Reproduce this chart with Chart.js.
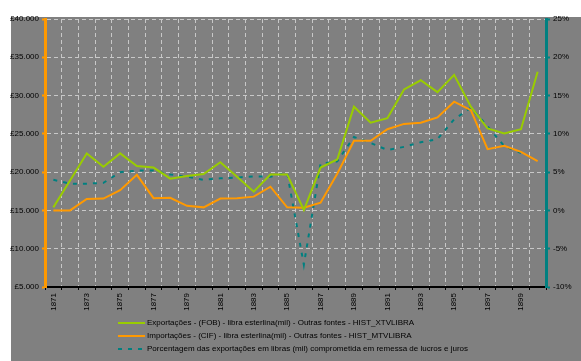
<!DOCTYPE html>
<html>
<head>
<meta charset="utf-8">
<script src="https://cdn.jsdelivr.net/npm/chart.js@4"></script>
<style>
  html, body { margin: 0; padding: 0; background: #ffffff; }
  #wrap { width: 581px; height: 361px; }
</style>
</head>
<body>
<div id="wrap"><canvas id="chart" width="581" height="361"></canvas></div>
<script>
// Years on the category axis
const years = [
  '1871', '1872', '1873', '1874', '1875', '1876', '1877', '1878', '1879', '1880',
  '1881', '1882', '1883', '1884', '1885', '1886', '1887', '1888', '1889', '1890',
  '1891', '1892', '1893', '1894', '1895', '1896', '1897', '1898', '1899', '1900'
];

// Exports (FOB), pounds sterling (thousands)
const exportsFob = [
  15400, 18900, 22450, 20700, 22450, 20800, 20600, 19150, 19500, 19750,
  21300, 19400, 17450, 19700, 19700, 15050, 20600, 21650, 28550, 26450,
  27050, 30800, 32000, 30450, 32700, 28550, 25700, 25050, 25600, 33100
];

// Imports (CIF), pounds sterling (thousands)
const importsCif = [
  15000, 15000, 16500, 16550, 17650, 19650, 16600, 16650, 15600, 15400,
  16550, 16600, 16800, 18100, 15400, 15350, 16000, 19800, 24100, 24100,
  25600, 26300, 26450, 27150, 29200, 28100, 23000, 23450, 22650, 21450
];

// Share of exports committed to remittance of profits and interest (%)
const remittancePct = [
  4.0, 3.5, 3.5, 3.6, 5.0, 5.2, 5.2, 4.7, 4.4, 4.0,
  4.2, 4.3, 4.45, 4.4, 4.9, -7.1, 6.1, 6.4, 9.6, 8.8,
  7.9, 8.3, 8.9, 9.3, 11.9, 13.4, 11.0, 8.4, 7.5, null
];

// Axis ranges
const poundsMin = 5000, poundsMax = 40000, poundsStep = 5000;
const pctMin = -10, pctMax = 25, pctStep = 5;

const seriesLabels = [
  'Exportações - (FOB) - libra esterlina(mil) - Outras fontes - HIST_XTVLIBRA',
  'Importações - (CIF) - libra esterlina(mil) - Outras fontes - HIST_MTVLIBRA',
  'Porcentagem das exportações em libras (mil) comprometida em remessa de lucros e juros'
];

const GREEN = '#99cc00';
const ORANGE = '#ff9900';
const TEAL = '#008080';
const GRID = '#c8c8c8';
const FONT = "'Liberation Sans', Arial, sans-serif";

// grey panel behind everything
const panelPlugin = {
  id: 'panel',
  beforeDraw(chart) {
    const ctx = chart.ctx;
    ctx.save();
    ctx.fillStyle = '#808080';
    ctx.fillRect(11, 17, chart.width - 11, chart.height - 17);
    ctx.restore();
  }
};

// legend stacked in a column under the axis
const columnLegend = {
  id: 'columnLegend',
  afterDraw(chart) {
    const ctx = chart.ctx;
    const x0 = 118, x1 = 145, rowY = [323, 336, 349];
    ctx.save();
    ctx.font = '8px ' + FONT;
    ctx.textBaseline = 'middle';
    chart.data.datasets.forEach((ds, i) => {
      const y = rowY[i];
      ctx.beginPath();
      ctx.setLineDash(ds.borderDash || []);
      ctx.strokeStyle = ds.borderColor;
      ctx.lineWidth = 2;
      ctx.moveTo(x0, y);
      ctx.lineTo(x1, y);
      ctx.stroke();
      ctx.setLineDash([]);
      ctx.fillStyle = '#000000';
      ctx.fillText(ds.label, 147, y);
    });
    ctx.restore();
  }
};

new Chart(document.getElementById('chart'), {
  type: 'line',
  data: {
    labels: years,
    datasets: [
      {
        label: seriesLabels[0],
        data: exportsFob,
        yAxisID: 'y',
        borderColor: GREEN,
        borderWidth: 2,
        pointRadius: 0,
        tension: 0
      },
      {
        label: seriesLabels[1],
        data: importsCif,
        yAxisID: 'y',
        borderColor: ORANGE,
        borderWidth: 2,
        pointRadius: 0,
        tension: 0
      },
      {
        label: seriesLabels[2],
        data: remittancePct,
        yAxisID: 'y1',
        borderColor: TEAL,
        borderWidth: 2,
        borderDash: [4, 6],
        pointRadius: 0,
        tension: 0,
        spanGaps: false
      }
    ]
  },
  options: {
    responsive: false,
    devicePixelRatio: 1,
    animation: false,
    layout: { padding: { top: 19, left: 0, right: 0, bottom: 0 } },
    plugins: {
      legend: { display: false },
      tooltip: { enabled: false }
    },
    scales: {
      x: {
        type: 'category',
        offset: true,
        grid: {
          offset: true,
          color: GRID,
          tickColor: '#000000',
          tickLength: 3
        },
        border: { color: '#000000', width: 2, dash: [4, 3] },
        ticks: {
          autoSkip: false,
          maxRotation: 90,
          minRotation: 90,
          padding: 3,
          color: '#000000',
          font: { family: FONT, size: 8 },
          callback: function(value, index) {
            return index % 2 === 0 ? years[index] : '';
          }
        },
        afterFit(scale) { scale.height = 74; }
      },
      y: {
        position: 'left',
        min: poundsMin,
        max: poundsMax,
        grid: {
          color: GRID,
          tickColor: ORANGE,
          tickLength: 3,
          tickWidth: 2
        },
        border: { color: ORANGE, width: 3, dash: [4, 3] },
        ticks: {
          stepSize: poundsStep,
          padding: 3,
          color: '#000000',
          font: { family: FONT, size: 8 },
          callback: v => '£' + (v / 1000) + '.000'
        },
        afterFit(scale) { scale.width = 45; }
      },
      y1: {
        position: 'right',
        min: pctMin,
        max: pctMax,
        grid: {
          drawOnChartArea: false,
          tickColor: TEAL,
          tickLength: 4,
          tickWidth: 2
        },
        border: { color: TEAL, width: 3 },
        ticks: {
          stepSize: pctStep,
          padding: 3,
          color: '#000000',
          font: { family: FONT, size: 8 },
          callback: v => v + '%'
        },
        afterFit(scale) { scale.width = 35; }
      }
    }
  },
  plugins: [panelPlugin, columnLegend]
});
</script>
</body>
</html>
